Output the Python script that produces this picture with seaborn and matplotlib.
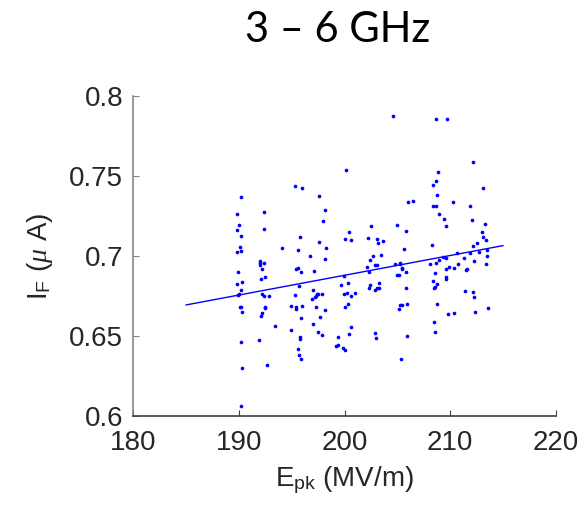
import matplotlib
matplotlib.use("Agg")
import matplotlib.pyplot as plt
import seaborn as sns
import pandas as pd

# ---- data ----
e_pk = [
    190.25, 189.84, 190.06, 189.84, 190.25, 190.09, 190.22, 189.84, 189.97, 190.35,
    189.81, 190.22, 190.06, 189.94, 190.09, 190.19, 190.28, 190.25, 190.31, 190.25,
    192.42, 192.36, 191.98, 191.98, 192.42, 191.98, 192.23, 192.45, 192.14, 192.23,
    192.42, 192.83, 192.45, 192.52, 192.23, 192.14, 191.95, 192.70, 193.46,
    194.06, 195.31, 195.94, 195.82, 195.60, 195.38, 195.57, 195.85, 195.69, 195.35,
    194.97, 195.44, 195.44, 195.97, 195.88, 194.97, 195.79, 195.82, 195.57, 195.72,
    195.88, 196.76, 197.11,
    197.61, 198.11, 197.99, 197.58, 198.27, 198.11, 197.04, 197.42, 197.33, 197.23,
    196.92, 197.52, 197.89, 197.33, 198.18, 197.70, 196.98, 197.48, 197.83,
    200.16, 200.47, 200.00, 200.60, 199.65, 200.31, 199.91, 199.94, 200.19, 200.60,
    200.97, 200.31, 200.06, 200.66, 200.44, 199.40, 199.34, 199.21, 199.84, 200.03,
    202.52, 202.20, 203.05, 203.21, 203.65, 202.67, 202.42, 203.49, 202.92, 203.11,
    202.11, 202.33, 202.45, 202.36, 203.27, 202.89, 203.08, 203.27, 202.92, 202.99,
    204.56, 208.64, 209.68, 212.13, 208.80, 208.68, 208.39, 213.14, 208.71, 206.00,
    206.47, 210.28, 208.39, 208.68, 211.91, 208.93, 209.40, 212.01, 209.59, 205.00,
    205.81, 213.30, 212.98, 213.11, 213.36, 212.51, 212.17, 208.30, 205.59, 210.66,
    211.88, 212.70, 213.52, 209.30, 209.62, 208.90, 211.32, 213.49, 212.26, 204.74,
    205.28, 205.28, 208.11, 208.61, 210.72, 209.84, 213.39, 205.41, 205.47, 209.56,
    210.37, 211.60, 211.47, 205.85, 208.58, 204.93, 205.12, 209.56, 209.59, 208.39,
    208.77, 208.52, 208.42, 205.78, 211.38, 212.17, 212.29, 205.88, 205.28, 205.41,
    205.12, 208.77, 209.74, 210.40, 212.32, 213.58, 208.42, 208.55, 205.94, 205.37,
]
i_f = [
    0.7369, 0.7263, 0.7192, 0.7160, 0.7127, 0.7056, 0.7031, 0.7027, 0.6902, 0.6838,
    0.6825, 0.6788, 0.6763, 0.6758, 0.6681, 0.6681, 0.6650, 0.6460, 0.6300, 0.6063,
    0.7275, 0.7169, 0.6969, 0.6954, 0.6956, 0.6944, 0.6919, 0.6871, 0.6858, 0.6763,
    0.6752, 0.6748, 0.6683, 0.6673, 0.6646, 0.6627, 0.6475, 0.6321, 0.6565,
    0.7052, 0.7435, 0.7425, 0.7119, 0.7040, 0.6919, 0.6923, 0.6898, 0.6813, 0.6754,
    0.6685, 0.6683, 0.6671, 0.6688, 0.6613, 0.6538, 0.6494, 0.6481, 0.6417, 0.6383,
    0.6358, 0.6998, 0.6906,
    0.7373, 0.7288, 0.7217, 0.7090, 0.7048, 0.6983, 0.6790, 0.6763, 0.6752, 0.6746,
    0.6733, 0.6763, 0.6763, 0.6681, 0.6660, 0.6619, 0.6575, 0.6523, 0.6504,
    0.7540, 0.7152, 0.7104, 0.7102, 0.6821, 0.6829, 0.6873, 0.6760, 0.6767, 0.6750,
    0.6767, 0.6702, 0.6683, 0.6556, 0.6510, 0.6492, 0.6444, 0.6435, 0.6427, 0.6410,
    0.7188, 0.7115, 0.7104, 0.7083, 0.7092, 0.7000, 0.6975, 0.7004, 0.6944, 0.6944,
    0.6933, 0.6898, 0.6819, 0.6798, 0.6833, 0.6785, 0.6802, 0.6798, 0.6521, 0.6490,
    0.7877, 0.7856, 0.7856, 0.7588, 0.7527, 0.7471, 0.7442, 0.7425, 0.7379, 0.7335,
    0.7344, 0.7340, 0.7313, 0.7315, 0.7310, 0.7260, 0.7231, 0.7223, 0.7190, 0.7192,
    0.7156, 0.7198, 0.7148, 0.7121, 0.7102, 0.7081, 0.7065, 0.7067, 0.7044, 0.7019,
    0.7019, 0.7025, 0.7040, 0.6994, 0.6988, 0.6975, 0.6985, 0.6998, 0.6969, 0.6952,
    0.6956, 0.6948, 0.6950, 0.6954, 0.6950, 0.6933, 0.6948, 0.6927, 0.6919, 0.6921,
    0.6925, 0.6917, 0.6910, 0.6902, 0.6896, 0.6881, 0.6883, 0.6871, 0.6856, 0.6844,
    0.6823, 0.6808, 0.6798, 0.6802, 0.6779, 0.6773, 0.6746, 0.6700, 0.6692, 0.6692,
    0.6667, 0.6698, 0.6640, 0.6644, 0.6650, 0.6673, 0.6590, 0.6525, 0.6500, 0.6356,
]
fit_x = [185, 215]
fit_y = [0.6694, 0.7065]
x_ticks = [180, 190, 200, 210, 220]
y_ticks = [0.6, 0.65, 0.7, 0.75, 0.8]
y_tick_labels = ["0.6", "0.65", "0.7", "0.75", "0.8"]
title = "3 – 6 GHz"

df = pd.DataFrame({"Epk": e_pk, "IF": i_f})
fit_df = pd.DataFrame({"x": fit_x, "y": fit_y})

sns.set_style("ticks")
plt.rcParams["font.family"] = ["Liberation Sans", "DejaVu Sans"]
plt.rcParams["mathtext.fontset"] = "custom"
plt.rcParams["mathtext.rm"] = "Liberation Sans"
plt.rcParams["mathtext.it"] = "Liberation Serif:italic"

fig = plt.figure(figsize=(5.85, 5.16), dpi=100)
ax = fig.add_axes([133 / 585, 1 - 416 / 516, 423 / 585, 320 / 516])

sns.scatterplot(data=df, x="Epk", y="IF", ax=ax, color=(0, 0, 1), s=7,
                linewidth=0, marker="o", zorder=3)
sns.lineplot(data=fit_df, x="x", y="y", ax=ax, color=(0, 0, 1), linewidth=1.0,
             zorder=4)

ax.set_xlim(180, 220)
ax.set_ylim(0.6, 0.8)
ax.set_xticks(x_ticks)
ax.set_xticklabels([str(t) for t in x_ticks])
ax.set_yticks(y_ticks)
ax.set_yticklabels(y_tick_labels)

for s in ["top", "right"]:
    ax.spines[s].set_visible(False)
ax.spines["left"].set_color("#858585")
ax.spines["bottom"].set_color("#404040")
ax.spines["left"].set_linewidth(1.2)
ax.spines["bottom"].set_linewidth(1.2)

ax.tick_params(axis="both", direction="in", length=4, width=0.8,
               labelsize=20, labelcolor="#262626")
ax.tick_params(axis="x", colors="#404040", labelcolor="#262626", pad=10)
ax.tick_params(axis="y", colors="#858585", labelcolor="#262626", pad=7)

ax.set_xlabel(r"E$_{\mathrm{pk}}$ (MV/m)", fontsize=20, color="#262626", labelpad=6)
ax.set_ylabel(r"I$_{\mathrm{F}}$ ($\mu$ A)", fontsize=20, color="#262626", labelpad=10)

fig.text(338 / 585, 1 - 42 / 516, title, fontsize=30, family=["Lato", "DejaVu Sans"],
         ha="center", va="baseline", color="black")

fig.savefig("out.png", dpi=100)
